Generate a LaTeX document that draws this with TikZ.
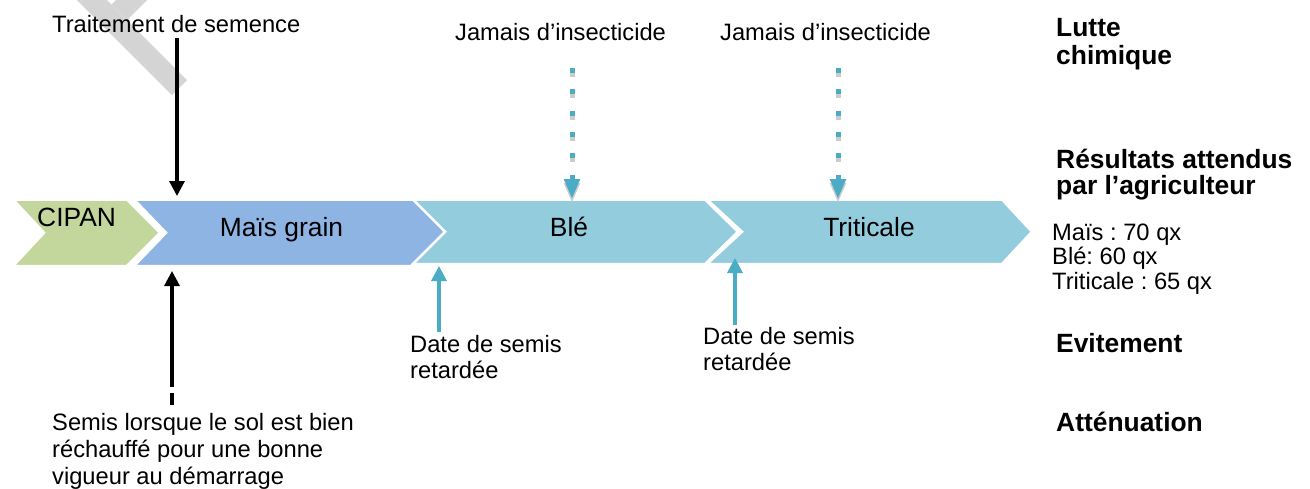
\documentclass[tikz,border=0pt]{standalone}
\usepackage{fontspec}
\setmainfont{Liberation Sans}
\usetikzlibrary{arrows.meta}
\definecolor{cgreen}{HTML}{C3D69B}
\definecolor{cblue}{HTML}{8EB4E3}
\definecolor{cteal}{HTML}{93CDDD}
\definecolor{carrow}{HTML}{4BACC6}
\definecolor{cwm}{HTML}{D4D4D4}
\definecolor{cshadow}{HTML}{CCCCCC}
\newcommand\fsreg{\fontsize{23.7}{26.5}\selectfont}
\newcommand\fsbig{\fontsize{26.4}{28}\selectfont}
\newcommand\fsbold{\fontsize{26.4}{28}\selectfont\bfseries}
\frenchspacing
\begin{document}
\frenchspacing
\begin{tikzpicture}[x=1pt,y=-1pt,
  txt/.style={font=\fsreg, inner sep=0pt, anchor=base west},
  lbl/.style={font=\fsbold, inner sep=0pt, anchor=base west},
  chevlbl/.style={font=\fsbig, inner sep=0pt},
  chev/.style={draw=white, line width=2.5pt, line join=miter},
  blk/.style={line width=3.2pt, -{Triangle[width=15pt,length=15pt]}},
  blu/.style={carrow, line width=3.3pt, -{Triangle[width=15pt,length=15pt]}},
  dotarr/.style={line width=5pt, dash pattern=on 5pt off 16.3pt, -{Triangle[width=15pt,length=20pt]}},
]
\useasboundingbox (0,0) rectangle (1310,488);
% watermark fragment
\begin{scope}
\clip (0,0) rectangle (1310,488);
\fill[cwm] (172,95) -- (187,80) -- (-13,-120) -- (-28,-105) -- cycle;
\fill[cwm] (111.5,4.5) -- (127,20) -- (227,-80) -- (211.5,-95.5) -- cycle;
\end{scope}
% chevrons
\filldraw[chev, fill=cgreen] (13,199.5) -- (127,199.5) -- (160,232.75) -- (127,266) -- (13,266) -- (44,232.75) -- cycle;
\filldraw[chev, fill=cblue] (134,199.5) -- (415,199.5) -- (447,232.75) -- (415,266) -- (134,266) -- (166,232.75) -- cycle;
\filldraw[chev, fill=cteal] (413,199.5) -- (705,199.5) -- (738,231.75) -- (705,264) -- (413,264) -- (445,231.75) -- cycle;
\filldraw[chev, fill=cteal] (707,199.5) -- (1002,199.5) -- (1032,231.75) -- (1002,264) -- (707,264) -- (742,231.75) -- cycle;
\node[chevlbl, anchor=base west] (cipan) at (37,226) {CIPAN};
\node[chevlbl, anchor=base] (mais) at (281.5,236) {Maïs grain};
\node[chevlbl, anchor=base] (ble) at (569,236) {Blé};
\node[chevlbl, anchor=base] (trit) at (869,236) {Triticale};
% top texts
\node[txt] (trait) at (52,32) {Traitement de semence};
\node[txt] (jam1) at (455,40) {Jamais d’insecticide};
\node[txt] (jam2) at (720,40) {Jamais d’insecticide};
% right labels
\node[lbl] (lutte1) at (1056,36) {Lutte};
\node[lbl] (lutte2) at (1056,64) {chimique};
\node[lbl] (res1) at (1056,168) {Résultats attendus};
\node[lbl] (res2) at (1056,194) {par l’agriculteur};
\node[txt] (rm) at (1052,240) {Maïs : 70 qx};
\node[txt] (rb) at (1052,264.5) {Blé: 60 qx};
\node[txt] (rt) at (1052,289) {Triticale : 65 qx};
\node[lbl] (evit) at (1056,352) {Evitement};
\node[lbl] (att) at (1056,431) {Atténuation};
% date texts
\node[txt] (d1a) at (410,352) {Date de semis};
\node[txt] (d1b) at (410,378) {retardée};
\node[txt] (d2a) at (703,344) {Date de semis};
\node[txt] (d2b) at (703,370) {retardée};
% bottom text
\node[txt] (s1) at (52,430) {Semis lorsque le sol est bien};
\node[txt] (s2) at (52,457) {réchauffé pour une bonne};
\node[txt] (s3) at (52,484) {vigueur au démarrage};
% arrow end points
\coordinate (a1s) at (177,38);
\coordinate (a1e) at (177,196);
\coordinate (a2s) at (172,405);
\coordinate (a2e) at (172,271);
\coordinate (b1s) at (439,332);
\coordinate (b1e) at (439,266);
\coordinate (b2s) at (735,325);
\coordinate (b2e) at (735,258);
\coordinate (c1s) at (572,68);
\coordinate (c1e) at (572,199);
\coordinate (c2s) at (838,68);
\coordinate (c2e) at (838,199);
% arrows
\draw[blk] (a1s) -- (a1e);
\draw[blk, dash pattern=on 12pt off 6pt on 400pt] (a2s) -- (a2e);
\draw[blu] (b1s) -- (b1e);
\draw[blu] (b2s) -- (b2e);
\draw[dotarr, cshadow, transform canvas={yshift=-4pt}] (c1s) -- (c1e);
\draw[dotarr, carrow] (c1s) -- (c1e);
\draw[dotarr, cshadow, transform canvas={yshift=-4pt}] (c2s) -- (c2e);
\draw[dotarr, carrow] (c2s) -- (c2e);
\end{tikzpicture}
\end{document}
